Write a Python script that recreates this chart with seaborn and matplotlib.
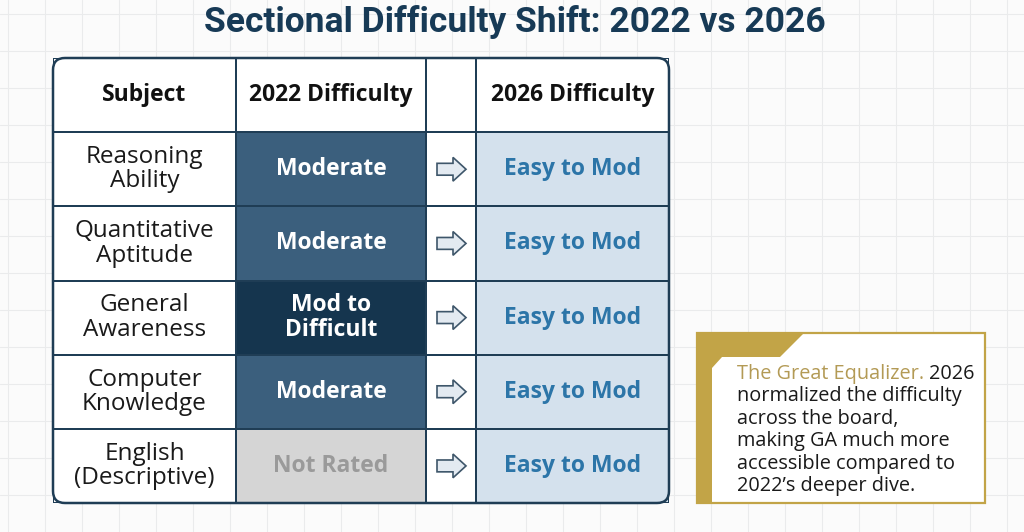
import numpy as np
import pandas as pd
import seaborn as sns
import matplotlib.pyplot as plt
from matplotlib.colors import ListedColormap
from matplotlib.patches import Polygon, FancyBboxPatch

# table content
headers = ["Subject", "2022 Difficulty", "", "2026 Difficulty"]
subjects = ["Reasoning\nAbility", "Quantitative\nAptitude", "General\nAwareness",
            "Computer\nKnowledge", "English\n(Descriptive)"]
diff_2022 = ["Moderate", "Moderate", "Mod to\nDifficult", "Moderate", "Not Rated"]
diff_2026 = ["Easy to Mod", "Easy to Mod", "Easy to Mod", "Easy to Mod", "Easy to Mod"]

title = "Sectional Difficulty Shift: 2022 vs 2026"
note_lead = "The Great Equalizer."
note_body = ["2026", "normalized the difficulty", "across the board,",
             "making GA much more", "accessible compared to", "2022\u2019s deeper dive."]

# level -> (code, fill colour, text colour)
levels = {
    "": (0, "#ffffff", "#111111"),
    "Moderate": (1, "#3b5f7d", "#ffffff"),
    "Mod to\nDifficult": (2, "#15354e", "#ffffff"),
    "Not Rated": (3, "#d5d5d5", "#9a9a9a"),
    "Easy to Mod": (4, "#d4e1ed", "#2c75a8"),
}
cmap = ListedColormap([v[1] for v in sorted(levels.values(), key=lambda v: v[0])])

W, H = 1024, 532
sns.set_theme(style="white")
plt.rcParams["font.family"] = ["Open Sans", "DejaVu Sans"]

fig = plt.figure(figsize=(W / 100, H / 100), dpi=100)
fig.patch.set_facecolor("#fbfbfb")

# background canvas in pixel coords
bg = fig.add_axes([0, 0, 1, 1])
bg.set_facecolor("#fbfbfb")
bg.set_xlim(0, W)
bg.set_ylim(H, 0)
bg.axis("off")
for gx in np.arange(8, W, 37):
    bg.axvline(gx, color="#eaebec", lw=0.8, zorder=0)
for gy in np.arange(14, H, 37):
    bg.axhline(gy, color="#eaebec", lw=0.8, zorder=0)
bg.text(W / 2 + 3, 22, title, ha="center", va="center", fontsize=25.5,
        fontweight="bold", color="#173a56", family=["Roboto", "DejaVu Sans"])


def px_axes(x0, x1, y0, y1):
    return fig.add_axes([x0 / W, 1 - y1 / H, (x1 - x0) / W, (y1 - y0) / H])


def level_of(v):
    return levels.get(v, levels[""])


top, bottom = 58, 503
col_edges = [53, 236, 426, 476, 669]
columns = [
    [""] + subjects,
    [""] + diff_2022,
    [""] * 6,
    [""] + diff_2026,
]

for ci, col in enumerate(columns):
    ax = px_axes(col_edges[ci], col_edges[ci + 1], top, bottom)
    codes = np.array([[level_of(v)[0]] for v in col])
    annot = np.array([[headers[ci]]] + [[v] for v in col[1:]])
    sns.heatmap(pd.DataFrame(codes), ax=ax, cmap=cmap, vmin=-0.5, vmax=4.5,
                cbar=False, annot=annot, fmt="", linewidths=1.2,
                linecolor="#1f3d55",
                annot_kws={"fontsize": 16.5, "linespacing": 1.02})
    ax.set_xticks([])
    ax.set_yticks([])
    for t in ax.texts:
        txt = t.get_text()
        if txt in headers:
            t.set_color("#111111")
            t.set_fontweight("bold")
        elif ci == 0:
            t.set_color("#1a1a1a")
            t.set_fontweight("normal")
            t.set_fontsize(17.5)
        else:
            t.set_color(level_of(txt)[2])
            t.set_fontweight("bold")
    if ci == 2:
        for r in range(1, 6):
            yc = r + 0.5
            pts = [(0.22, yc - 0.08), (0.54, yc - 0.08), (0.54, yc - 0.16),
                   (0.80, yc), (0.54, yc + 0.16), (0.54, yc + 0.08),
                   (0.22, yc + 0.08)]
            ax.add_patch(Polygon(pts, closed=True, facecolor="#e3eaf1",
                                 edgecolor="#3e566a", lw=1.2))

# overlay for frame and callout
ov = fig.add_axes([0, 0, 1, 1], facecolor="none")
ov.set_xlim(0, W)
ov.set_ylim(H, 0)
ov.axis("off")
ov.add_patch(FancyBboxPatch((53, 58), 616, 445,
                            boxstyle="round,pad=0,rounding_size=12",
                            facecolor="none", edgecolor="#1f3d55", lw=1.8))

gold = "#c2a447"
ov.add_patch(Polygon([(697, 333), (985, 333), (985, 503), (697, 503)],
                     closed=True, facecolor="#ffffff", edgecolor=gold, lw=1.6))
ov.add_patch(Polygon([(697, 333), (804, 333), (780, 357), (722, 357),
                      (712, 368), (712, 503), (697, 503)],
                     closed=True, facecolor=gold, edgecolor="none"))
tx, ty, lh = 737, 374, 22.4
fs = 14.3
lead = ov.text(tx, ty, note_lead + " ", fontsize=fs, color="#b39a55",
               va="center", ha="left")
fig.canvas.draw()
bb = lead.get_window_extent()
ov.text(bb.x1, ty, note_body[0], fontsize=fs, color="#1a1a1a",
        va="center", ha="left")
for i, line in enumerate(note_body[1:], start=1):
    ov.text(tx, ty + i * lh, line, fontsize=fs, color="#1a1a1a",
            va="center", ha="left")

fig.savefig("out.png", dpi=100, facecolor=fig.get_facecolor())
